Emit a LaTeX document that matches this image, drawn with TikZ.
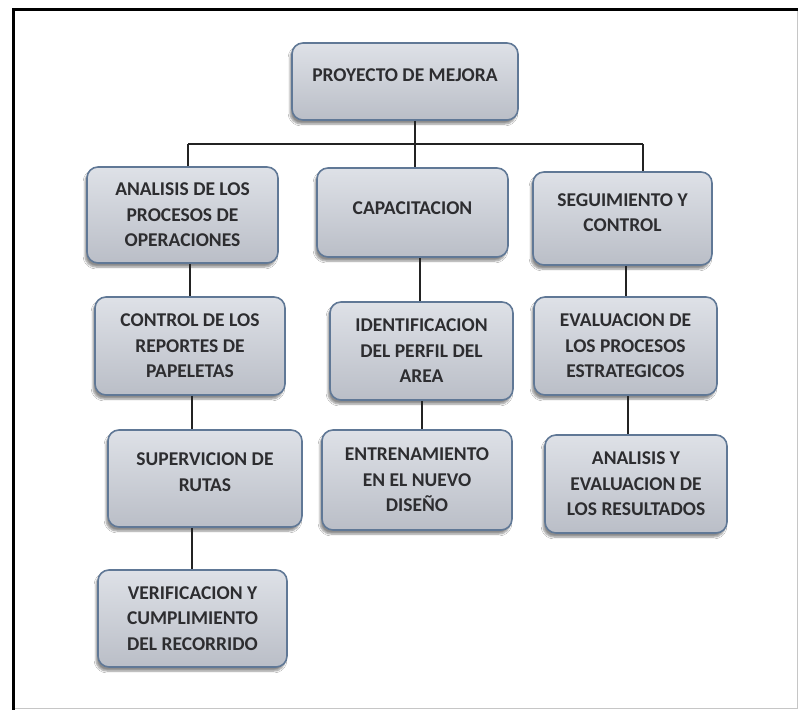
\documentclass[tikz,border=0pt]{standalone}
\usepackage{fontspec}
\setmainfont{Carlito}
\usetikzlibrary{shadows.blur}
\definecolor{boxtop}{RGB}{222,225,231}
\definecolor{boxbot}{RGB}{186,190,199}
\definecolor{boxedge}{RGB}{96,120,150}
\definecolor{ink}{RGB}{45,45,48}
\definecolor{wire}{RGB}{35,35,35}
\tikzset{
  orgbox/.style={draw=boxedge, line width=1.6pt, rounded corners=11pt,
    top color=boxtop, bottom color=boxbot, inner sep=0pt,
    align=center, text=ink, font=\bfseries\fontsize{19.5}{25.5}\selectfont,
    blur shadow={shadow xshift=-2pt, shadow yshift=-4pt, shadow blur steps=6, shadow opacity=45}},
  lift/.style={text depth=#1},
  link/.style={draw=wire, line width=1.4pt}
}
% \orgnode{name}{x}{y}{width}{height}{extra options}{text}
\newcommand{\orgnode}[7]{%
  \node[orgbox, minimum width=#4pt, minimum height=#5pt, #6] (#1) at (#2,#3) {#7};}
\begin{document}
\begin{tikzpicture}[x=1pt,y=-1pt]
  % page and frame
  \fill[white] (0,0) rectangle (798,710);
  \useasboundingbox (0,0) rectangle (798,710);
  \draw[gray!45, line width=1.2pt] (13,708.5) -- (797.5,708.5) -- (797.5,9);
  \draw[black, line width=3pt, line cap=rect] (13,708) -- (13,9) -- (798,9);

  % connectors (drawn first, boxes cover their ends)
  \coordinate (busL) at (188,144);
  \coordinate (busM) at (415,144);
  \coordinate (busR) at (643,144);

  % boxes
  \orgnode{root}{405}{81.5}{226}{77}{lift=12pt}{PROYECTO DE MEJORA}
  \orgnode{aone}{182.5}{215}{191}{96}{}{ANALISIS DE LOS\\PROCESOS DE\\OPERACIONES}
  \orgnode{atwo}{190}{346}{190}{98}{}{CONTROL DE LOS\\REPORTES DE\\PAPELETAS}
  \orgnode{athree}{205}{478.5}{194}{97}{lift=13pt}{SUPERVICION DE\\RUTAS}
  \orgnode{afour}{192.5}{618.5}{189}{97}{}{VERIFICACION Y\\CUMPLIMIENTO\\DEL RECORRIDO}
  \orgnode{bone}{412.5}{212.5}{191}{89}{lift=9pt}{CAPACITACION}
  \orgnode{btwo}{421.5}{351}{183}{98}{}{IDENTIFICACION\\DEL PERFIL DEL\\AREA}
  \orgnode{bthree}{417}{480}{190}{100}{}{ENTRENAMIENTO\\EN EL NUEVO\\DISEÑO}
  \orgnode{cone}{622.5}{218.5}{179}{93}{lift=12pt}{SEGUIMIENTO Y\\CONTROL}
  \orgnode{ctwo}{625.5}{346}{183}{98}{}{EVALUACION DE\\LOS PROCESOS\\ESTRATEGICOS}
  \orgnode{cthree}{636}{484}{182}{98}{}{ANALISIS Y\\EVALUACION DE\\LOS RESULTADOS}

  % tree lines
  \draw[link] (busL) -- (busR);
  \draw[link] (busM |- root.south) -- (busM |- bone.north);
  \draw[link] (busL) -- (busL |- aone.north);
  \draw[link] (busR) -- (busR |- cone.north);
  \draw[link] (190,0 |- aone.south) -- (190,0 |- atwo.north);
  \draw[link] (192,0 |- atwo.south) -- (192,0 |- athree.north);
  \draw[link] (192,0 |- athree.south) -- (192,0 |- afour.north);
  \draw[link] (420,0 |- bone.south) -- (420,0 |- btwo.north);
  \draw[link] (422,0 |- btwo.south) -- (422,0 |- bthree.north);
  \draw[link] (626,0 |- cone.south) -- (626,0 |- ctwo.north);
  \draw[link] (628,0 |- ctwo.south) -- (628,0 |- cthree.north);
\end{tikzpicture}
\end{document}
